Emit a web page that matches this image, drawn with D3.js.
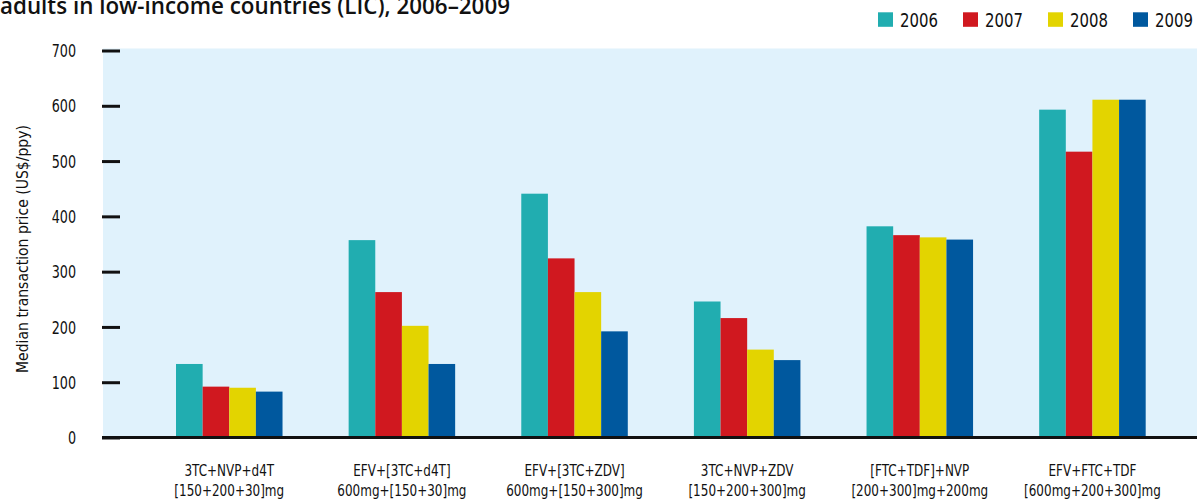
<!DOCTYPE html>
<html><head><meta charset="utf-8">
<script src="https://cdn.jsdelivr.net/npm/d3@7"></script>
<style>
body{margin:0;background:#fff;}
svg text{font-family:"DejaVu Sans","Liberation Sans",sans-serif;fill:#111;}
</style></head>
<body><svg id="c" width="1197" height="503"></svg>
<script>
const categories = [
  ["3TC+NVP+d4T","[150+200+30]mg"],
  ["EFV+[3TC+d4T]","600mg+[150+30]mg"],
  ["EFV+[3TC+ZDV]","600mg+[150+300]mg"],
  ["3TC+NVP+ZDV","[150+200+300]mg"],
  ["[FTC+TDF]+NVP","[200+300]mg+200mg"],
  ["EFV+FTC+TDF","[600mg+200+300]mg"]
];
const years = ["2006","2007","2008","2009"];
const v2006 = [133, 357, 441, 246, 382, 593];
const v2007 = [92, 263, 324, 216, 366, 517];
const v2008 = [90, 202, 263, 159, 362, 611];
const v2009 = [83, 133, 192, 140, 358, 611];
const yTicks = [0,100,200,300,400,500,600,700];
const colors = ["#21adb0","#d0181f","#e3d400","#00589e"];
const title = "adults in low-income countries (LIC), 2006\u20132009";
const yLabel = "Median transaction price (US$/ppy)";

const series = [v2006, v2007, v2008, v2009];
const svg = d3.select("#c");
const W = 1197;

const y = d3.scaleLinear().domain([0,700]).range([437.5, 50.5]);
const x0 = d3.scaleBand().domain(d3.range(categories.length)).range([142.95, 1178.75]).paddingInner(0.383).paddingOuter(0.1915);
const x1 = d3.scaleBand().domain(d3.range(years.length)).range([0, x0.bandwidth()]);

// background
svg.append("rect").attr("x",103).attr("y",y(700)-2).attr("width",W-103).attr("height",y(0)-y(700)+2).attr("fill","#e0f2fc");

// title
svg.append("text").attr("x",0).attr("y",14).attr("font-size",24).attr("font-weight",600)
  .style("font-family","'Open Sans','DejaVu Sans',sans-serif")
  .attr("textLength",510).attr("lengthAdjust","spacingAndGlyphs").text(title);

// bars
const g = svg.append("g");
categories.forEach((c,i)=>{
  series.forEach((s,j)=>{
    g.append("rect").attr("x",x0(i)+x1(j)).attr("width",x1.bandwidth())
      .attr("y",y(s[i])).attr("height",y(0)-y(s[i])).attr("fill",colors[j]);
  });
});

// y axis
const ax = svg.append("g").attr("transform","translate(120,0)")
  .call(d3.axisLeft(y).tickValues(yTicks).tickSize(18).tickPadding(26).tickFormat(d3.format("d")));
ax.select(".domain").remove();
ax.selectAll(".tick line").attr("stroke","#111").attr("stroke-width",3);
ax.selectAll(".tick text").attr("font-size",17).attr("x",0).attr("dy","0.36em")
  .attr("transform","translate(-44,0) scale(0.75,1)")
  .style("font-family","'DejaVu Sans',sans-serif").attr("fill","#111");

// baseline
svg.append("line").attr("x1",102).attr("x2",W).attr("y1",y(0)).attr("y2",y(0)).attr("stroke","#111").attr("stroke-width",3);

// category labels
categories.forEach((c,i)=>{
  const cx = x0(i)+x0.bandwidth()/2;
  const t = svg.append("g").attr("transform",`translate(${cx},0) scale(0.8,1)`)
    .append("text").attr("text-anchor","middle").attr("font-size",15);
  t.append("tspan").attr("x",0).attr("y",476).text(c[0]);
  t.append("tspan").attr("x",0).attr("y",496).text(c[1]);
});

// y label
svg.append("text").attr("transform","translate(28,249) rotate(-90)").attr("text-anchor","middle")
  .attr("font-size",15).attr("textLength",248).attr("lengthAdjust","spacingAndGlyphs").text(yLabel);

// legend
const lx = d3.scaleBand().domain(years).range([878, 1218]);
years.forEach((yr,j)=>{
  svg.append("rect").attr("x",lx(yr)).attr("y",12.3).attr("width",15).attr("height",14.5).attr("fill",colors[j]);
  svg.append("text").attr("x",lx(yr)+22).attr("y",27.3).attr("font-size",20)
    .attr("textLength",38).attr("lengthAdjust","spacingAndGlyphs").text(yr);
});
</script></body></html>
